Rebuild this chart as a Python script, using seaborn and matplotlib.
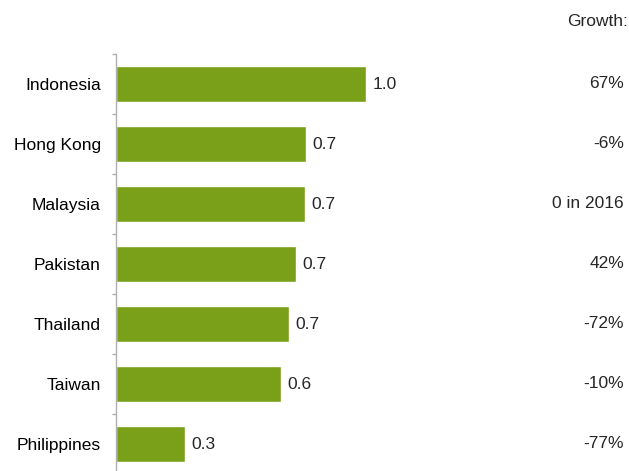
import pandas as pd
import matplotlib
matplotlib.use('Agg')
import matplotlib.pyplot as plt
import seaborn as sns

# values
countries = ['Indonesia', 'Hong Kong', 'Malaysia', 'Pakistan', 'Thailand', 'Taiwan', 'Philippines']
values = [0.98, 0.745, 0.74, 0.705, 0.68, 0.649, 0.27]
growth = ['67%', '-6%', '0 in 2016', '42%', '-72%', '-10%', '-77%']

df = pd.DataFrame({'country': countries, 'value': values, 'growth': growth})

sns.set_style('white')
plt.rcParams['font.family'] = ['Liberation Sans', 'DejaVu Sans']
fs = 12.5

fig = plt.figure(figsize=(6.29, 4.71), dpi=100)
ax = fig.add_axes([116 / 629, -3 / 471, 513 / 629, 420 / 471])

sns.barplot(data=df, x='value', y='country', color='#7aa01a', width=0.6,
            saturation=1, ax=ax)

ax.set_xlim(0, 513 / 255)
ax.set_ylim(6.5, -0.5)
ax.set_xlabel('')
ax.set_ylabel('')
ax.set_xticks([])
ax.tick_params(axis='y', which='major', left=False, length=0, labelsize=fs, pad=11, colors='#000000')
ax.set_yticks([i + 0.5 for i in range(-1, 7)], minor=True)
ax.tick_params(axis='y', which='minor', left=True, length=3, color='#b0b0b0', width=1)

for side in ['top', 'right', 'bottom']:
    ax.spines[side].set_visible(False)
ax.spines['left'].set_color('#b0b0b0')
ax.spines['left'].set_linewidth(1)

for i, row in df.iterrows():
    ax.text(row['value'] + 0.025, i, f"{row['value']:.1f}", va='center', ha='left', fontsize=fs)
    fig.text(624 / 629, 1 - (84 + 60 * i) / 471, row['growth'], va='center', ha='right', fontsize=fs)

fig.text(628 / 629, 1 - 22 / 471, 'Growth:', va='center', ha='right', fontsize=fs)

fig.savefig('out.png', dpi=100)
